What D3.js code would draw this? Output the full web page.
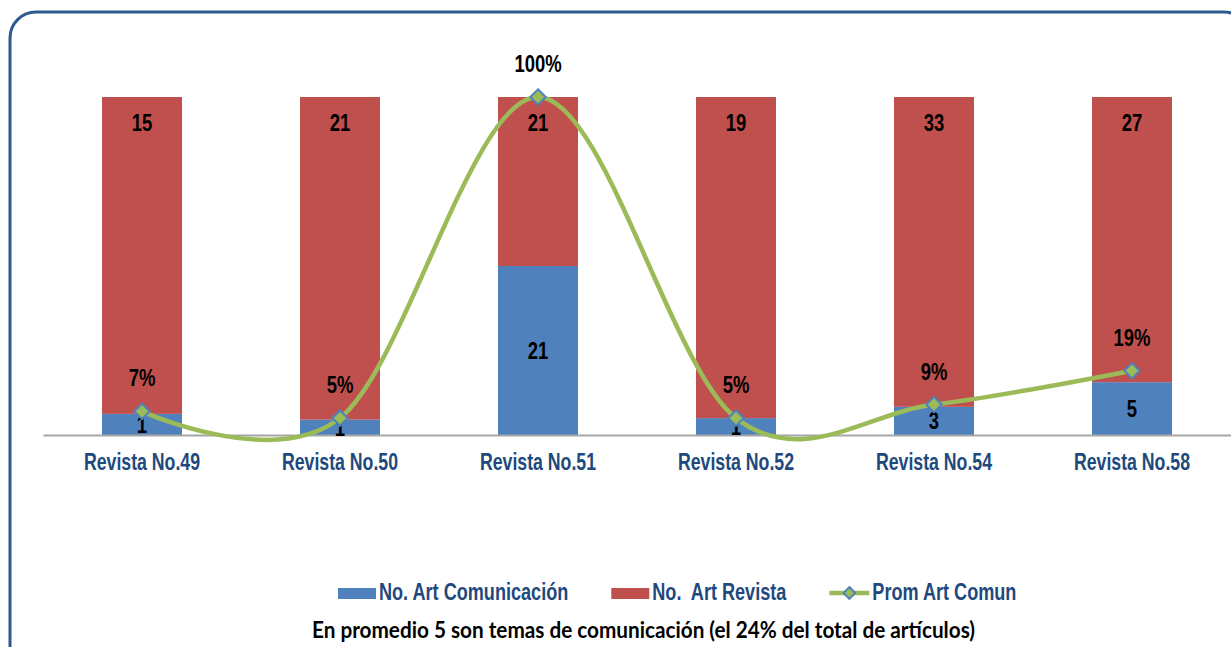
<!DOCTYPE html>
<html>
<head>
<meta charset="utf-8">
<script src="https://cdn.jsdelivr.net/npm/d3@7"></script>
<style>
  html, body { margin: 0; padding: 0; background: #fff; }
  svg { display: block; }
  text { white-space: pre; }
</style>
</head>
<body>
<div id="chart"></div>
<script>
// chart data
const categories = ["Revista No.49", "Revista No.50", "Revista No.51", "Revista No.52", "Revista No.54", "Revista No.58"];
const artComunicacion = [1, 1, 21, 1, 3, 5];
const artRevista = [15, 21, 21, 19, 33, 27];
const promArtComun = [7, 5, 100, 5, 9, 19]; // percent
const seriesNames = ["No. Art Comunicación", "No.  Art Revista", "Prom Art Comun"];
const footNote = "En promedio 5 son temas de comunicación (el 24% del total de artículos)";

const W = 1231, H = 647;
const blue = "#4F81BD", red = "#C0504D", green = "#9BBB59", navy = "#1F497D";
const SX = 0.77; // horizontal squeeze to mimic the narrow font
const fontArial = "'Liberation Sans', Arial, sans-serif";

const svg = d3.select("#chart").append("svg").attr("width", W).attr("height", H);

// outer rounded frame
svg.append("rect")
  .attr("x", 10).attr("y", 12)
  .attr("width", 1240).attr("height", 660)
  .attr("rx", 26).attr("ry", 26)
  .attr("fill", "#fff")
  .attr("stroke", "#2C5A8E")
  .attr("stroke-width", 3);

const rows = categories.map((c, i) => ({ cat: c, comun: artComunicacion[i], rev: artRevista[i], prom: promArtComun[i] }));

// scales
const x = d3.scaleBand().domain(categories).range([43, 1231]).paddingInner(0.596).paddingOuter(0.298);
const y = d3.scaleLinear().domain([0, 1]).range([435, 97]);
const y2 = d3.scaleLinear().domain([0, 100]).range([435, 97]);
const cx = d => x(d) + x.bandwidth() / 2;

// 100% stacked bars
const stacked = d3.stack().keys(["comun", "rev"]).offset(d3.stackOffsetExpand)(rows);
const colors = { comun: blue, rev: red };

const layers = svg.append("g").selectAll("g")
  .data(stacked)
  .join("g")
  .attr("fill", s => colors[s.key]);

layers.selectAll("rect")
  .data(s => s)
  .join("rect")
  .attr("x", d => x(d.data.cat))
  .attr("width", x.bandwidth())
  .attr("y", d => y(d[1]))
  .attr("height", d => y(d[0]) - y(d[1]));

// category axis
const axisG = svg.append("g")
  .attr("transform", "translate(0," + y(0) + ")")
  .call(d3.axisBottom(x).tickSize(0).tickPadding(0));
axisG.select(".domain").attr("stroke", "#A6A6A6").attr("stroke-width", 2);
axisG.selectAll(".tick text").remove();

svg.append("g").selectAll("text")
  .data(categories)
  .join("text")
  .attr("transform", d => "translate(" + cx(d) + ",470) scale(" + SX + ",1)")
  .attr("text-anchor", "middle")
  .attr("font-family", fontArial)
  .attr("font-weight", "bold")
  .attr("font-size", 23)
  .attr("fill", navy)
  .text(d => d);

// data labels on bars
const labelG = svg.append("g")
  .attr("font-family", fontArial)
  .attr("font-weight", "bold")
  .attr("font-size", 24)
  .attr("fill", "#000")
  .attr("text-anchor", "middle");

labelG.selectAll(".lblRev")
  .data(stacked[1])
  .join("text")
  .attr("class", "lblRev")
  .attr("transform", d => "translate(" + cx(d.data.cat) + "," + (y(d[1]) + 34) + ") scale(" + SX + ",1)")
  .text(d => d.data.rev);

labelG.selectAll(".lblCom")
  .data(stacked[0])
  .join("text")
  .attr("class", "lblCom")
  .attr("transform", d => "translate(" + cx(d.data.cat) + "," + ((y(d[0]) + y(d[1])) / 2 + 8.5) + ") scale(" + SX + ",1)")
  .text(d => d.data.comun);

// smoothed line on secondary axis
const line = d3.line()
  .x(d => cx(d.cat))
  .y(d => y2(d.prom))
  .curve(d3.curveCardinal);

svg.append("path")
  .datum(rows)
  .attr("d", line)
  .attr("fill", "none")
  .attr("stroke", green)
  .attr("stroke-width", 4.5)
  .attr("stroke-linecap", "round");

const diamond = d3.symbol().type(d3.symbolDiamond2 || d3.symbolDiamond).size(150);

svg.append("g").selectAll("path")
  .data(rows)
  .join("path")
  .attr("transform", d => "translate(" + cx(d.cat) + "," + y2(d.prom) + ")")
  .attr("d", diamond)
  .attr("fill", green)
  .attr("stroke", blue)
  .attr("stroke-width", 2);

labelG.selectAll(".lblProm")
  .data(rows)
  .join("text")
  .attr("class", "lblProm")
  .attr("transform", d => "translate(" + cx(d.cat) + "," + (y2(d.prom) - 25) + ") scale(" + SX + ",1)")
  .text(d => d.prom + "%");

// legend
const legend = svg.append("g").attr("transform", "translate(338,600)");
let lx = 0;
seriesNames.forEach((name, i) => {
  const item = legend.append("g").attr("transform", "translate(" + lx + ",0)");
  if (i < 2) {
    item.append("rect")
      .attr("x", 0).attr("y", -12)
      .attr("width", 38).attr("height", 11)
      .attr("fill", i === 0 ? blue : red);
  } else {
    item.append("line")
      .attr("x1", 0).attr("x2", 40)
      .attr("y1", -7).attr("y2", -7)
      .attr("stroke", green).attr("stroke-width", 4.5);
    item.append("path")
      .attr("transform", "translate(20,-7)")
      .attr("d", d3.symbol().type(d3.symbolDiamond2 || d3.symbolDiamond).size(90))
      .attr("fill", green)
      .attr("stroke", blue)
      .attr("stroke-width", 2);
  }
  const t = item.append("text")
    .attr("transform", "translate(" + (i < 2 ? 41 : 43) + ",0) scale(" + SX + ",1)")
    .attr("font-family", fontArial)
    .attr("font-weight", "bold")
    .attr("font-size", 23.5)
    .attr("fill", navy)
    .text(name);
  const tw = t.node().getComputedTextLength() * SX;
  lx += (i < 2 ? 41 : 43) + tw + 43;
});

// foot note
svg.append("text")
  .attr("x", 312).attr("y", 638)
  .attr("font-family", "Lato, 'Open Sans', sans-serif")
  .attr("font-weight", "bold")
  .attr("font-size", 23.5)
  .attr("fill", "#000")
  .attr("textLength", 663)
  .attr("lengthAdjust", "spacingAndGlyphs")
  .text(footNote);
</script>
</body>
</html>
